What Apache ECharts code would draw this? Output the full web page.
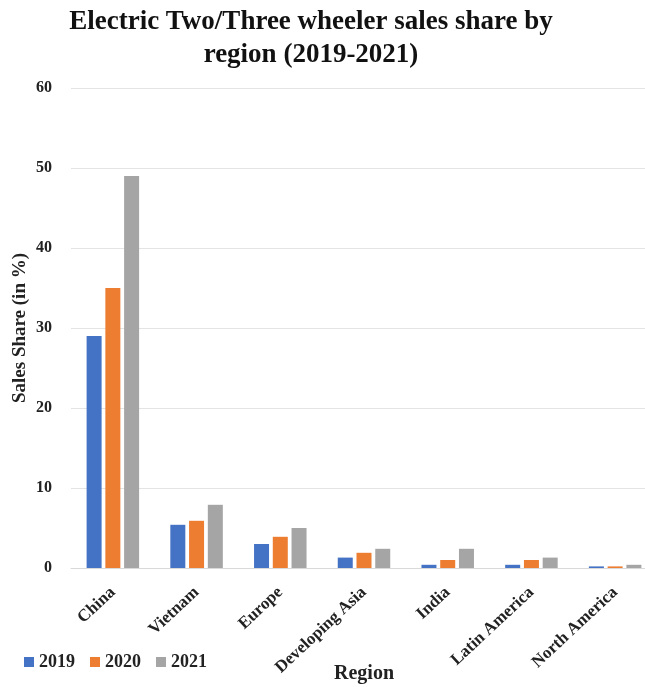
<!DOCTYPE html>
<html>
<head>
<meta charset="utf-8">
<script src="https://cdn.jsdelivr.net/npm/echarts@6/dist/echarts.min.js"></script>
<style>
  html, body { margin: 0; padding: 0; background: #fff; overflow: hidden; }
  #chart { width: 660px; height: 687px; }
</style>
</head>
<body>
<div id="chart"></div>
<script>
// data
const regions = ['China', 'Vietnam', 'Europe', 'Developing Asia', 'India', 'Latin America', 'North America'];
const years = ['2019', '2020', '2021'];
const share2019 = [29, 5.4, 3, 1.3, 0.4, 0.4, 0.2];
const share2020 = [35, 5.9, 3.9, 1.9, 1.0, 1.0, 0.2];
const share2021 = [49, 7.9, 5, 2.4, 2.4, 1.3, 0.4];
const yTicks = [0, 10, 20, 30, 40, 50, 60];

const colors = ['#4472C4', '#ED7D31', '#A5A5A5'];
const serif = '"Liberation Serif", "DejaVu Serif", serif';

const myChart = echarts.init(document.getElementById('chart'));

const seriesValues = [share2019, share2020, share2021];

const option = {
    color: colors,
    title: {
        text: 'Electric Two/Three wheeler sales share by\nregion (2019-2021)',
        left: 306,
        textAlign: 'center',
        top: 1,
        textStyle: {
            fontFamily: serif,
            fontWeight: 'bold',
            fontSize: 27,
            lineHeight: 33,
            color: '#111'
        }
    },
    legend: {
        left: 19,
        top: 648,
        itemWidth: 10,
        itemHeight: 10,
        itemGap: 15,
        icon: 'rect',
        textStyle: {
            fontFamily: serif,
            fontWeight: 'bold',
            fontSize: 18,
            color: '#222'
        },
        data: years
    },
    grid: {
        left: 71,
        right: 3,
        top: 88,
        height: 480,
        outerBoundsMode: 'none',
        containLabel: false
    },
    xAxis: {
        type: 'category',
        data: regions,
        name: 'Region',
        nameLocation: 'middle',
        nameGap: 96,
        nameMoveOverlap: false,
        nameTextStyle: {
            fontFamily: serif,
            fontWeight: 'bold',
            fontSize: 20,
            color: '#222'
        },
        axisLine: { lineStyle: { color: '#d9d9d9' } },
        axisTick: { show: false },
        axisLabel: {
            rotate: 43,
            margin: 22,
            interval: 0,
            fontFamily: serif,
            fontWeight: 'bold',
            fontSize: 17,
            color: '#222'
        }
    },
    yAxis: {
        type: 'value',
        min: yTicks[0],
        max: yTicks[yTicks.length - 1],
        interval: 10,
        name: 'Sales Share (in %)',
        nameLocation: 'middle',
        nameGap: 41,
        nameMoveOverlap: false,
        nameRotate: 90,
        nameTextStyle: {
            fontFamily: serif,
            fontWeight: 'bold',
            fontSize: 19,
            color: '#222'
        },
        axisLine: { show: false },
        axisTick: { show: false },
        axisLabel: {
            margin: 19,
            fontFamily: serif,
            fontWeight: 'bold',
            fontSize: 16,
            color: '#222'
        },
        splitLine: { lineStyle: { color: '#e4e4e4' } }
    },
    series: []
};

option.series = years.map((y, i) => {
    return {
        name: y,
        type: 'bar',
        data: seriesValues[i],
        barWidth: 15,
        barGap: '25%',
        itemStyle: { color: colors[i] }
    };
});

myChart.setOption(option);
</script>
</body>
</html>
